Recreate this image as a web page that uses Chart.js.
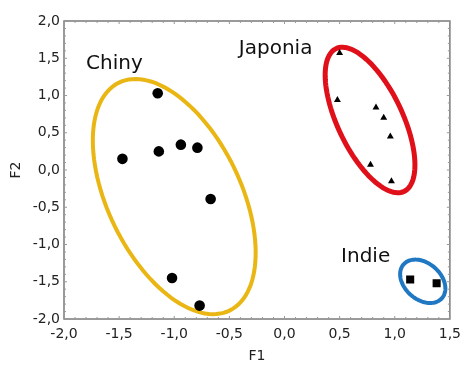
<!DOCTYPE html>
<html>
<head>
<meta charset="utf-8">
<script src="https://cdn.jsdelivr.net/npm/chart.js@4.4.1/dist/chart.umd.min.js"></script>
<style>
html,body{margin:0;padding:0;background:#fff;}
#wrap{width:468px;height:365px;position:relative;}
</style>
</head>
<body>
<div id="wrap"><canvas id="c" width="468" height="365"></canvas></div>
<script>
// Data
const chinyX = [-1.47, -1.15, -1.14, -0.94, -0.79, -0.67, -1.02, -0.77];
const chinyY = [0.15, 1.03, 0.25, 0.34, 0.30, -0.39, -1.45, -1.82];
const japoniaX = [0.50, 0.48, 0.83, 0.90, 0.96, 0.78, 0.97];
const japoniaY = [1.57, 0.94, 0.84, 0.70, 0.45, 0.07, -0.15];
const indieX = [1.14, 1.38];
const indieY = [-1.47, -1.52];
const groupNames = ['Chiny', 'Japonia', 'Indie'];
const xTicksRange = [-2, 1.5];
const yTicksRange = [-2, 2];
const axisTitles = ['F1', 'F2'];

// Confidence ellipses (data units): centre, two semi-axis vectors
const ellipseCentreX = [-1.00, 0.776, 1.254];
const ellipseCentreY = [-0.357, 0.671, -1.494];
const ellipseU = [[0.505, -1.527], [0.309, -0.958], [0.175, -0.225]];
const ellipseV = [[-0.539, -0.399], [-0.265, -0.19], [-0.107, -0.185]];

// Label anchors (data units)
const labelX = [-1.80, -0.414, 0.513];
const labelY = [1.352, 1.557, -1.239];

const ellipseStyle = [
  {color: '#E9B614', width: 4},
  {color: '#E0101A', width: 5},
  {color: '#1F78C1', width: 4}
];

function pts(xs, ys){ return xs.map((x,i)=>({x:x, y:ys[i]})); }
const fmt = v => v.toFixed(1).replace('.', ',');

const overlay = {
  id: 'overlay',
  beforeDatasetsDraw(chart){
    const ctx = chart.ctx, xs = chart.scales.x, ys = chart.scales.y, ca = chart.chartArea;
    ctx.save();
    // frame
    ctx.strokeStyle = '#7a7a7a';
    ctx.lineWidth = 1.5;
    ctx.strokeRect(ca.left, ca.top, ca.right - ca.left, ca.bottom - ca.top);
    // inner tick marks
    ctx.lineWidth = 1;
    ctx.strokeStyle = '#999';
    for (let k = Math.round(xs.min*10); k <= Math.round(xs.max*10); k++){
      const px = xs.getPixelForValue(k/10);
      const len = (k % 5 === 0) ? 3 : 2;
      ctx.beginPath();
      ctx.moveTo(px, ca.bottom); ctx.lineTo(px, ca.bottom - len);
      ctx.moveTo(px, ca.top); ctx.lineTo(px, ca.top + len);
      ctx.stroke();
    }
    for (let k = Math.round(ys.min*10); k <= Math.round(ys.max*10); k++){
      const py = ys.getPixelForValue(k/10);
      const len = (k % 5 === 0) ? 3 : 2;
      ctx.beginPath();
      ctx.moveTo(ca.left, py); ctx.lineTo(ca.left + len, py);
      ctx.moveTo(ca.right, py); ctx.lineTo(ca.right - len, py);
      ctx.stroke();
    }
    // ellipses
    for (let e = 0; e < ellipseCentreX.length; e++){
      ctx.beginPath();
      const N = 120;
      for (let i = 0; i <= N; i++){
        const t = i / N * Math.PI * 2;
        const dx = ellipseCentreX[e] + ellipseU[e][0]*Math.cos(t) + ellipseV[e][0]*Math.sin(t);
        const dy = ellipseCentreY[e] + ellipseU[e][1]*Math.cos(t) + ellipseV[e][1]*Math.sin(t);
        const px = xs.getPixelForValue(dx), py = ys.getPixelForValue(dy);
        if (i === 0) ctx.moveTo(px, py); else ctx.lineTo(px, py);
      }
      ctx.closePath();
      ctx.strokeStyle = ellipseStyle[e].color;
      ctx.lineWidth = ellipseStyle[e].width;
      ctx.stroke();
    }
    // group labels
    ctx.fillStyle = '#111';
    ctx.font = '20px "DejaVu Sans"';
    ctx.textAlign = 'left';
    ctx.textBaseline = 'alphabetic';
    for (let g = 0; g < groupNames.length; g++){
      ctx.fillText(groupNames[g], xs.getPixelForValue(labelX[g]), ys.getPixelForValue(labelY[g]));
    }
    ctx.restore();
  }
};

new Chart(document.getElementById('c'), {
  type: 'scatter',
  data: {
    datasets: [
      {label: groupNames[0], data: pts(chinyX, chinyY), pointStyle: 'circle', pointRadius: 5.3,
       backgroundColor: '#000', borderColor: '#000', borderWidth: 0},
      {label: groupNames[1], data: pts(japoniaX, japoniaY), pointStyle: 'triangle', pointRadius: 4,
       backgroundColor: '#000', borderColor: '#000', borderWidth: 0},
      {label: groupNames[2], data: pts(indieX, indieY), pointStyle: 'rect', pointRadius: 5.7,
       backgroundColor: '#000', borderColor: '#000', borderWidth: 0}
    ]
  },
  options: {
    responsive: false,
    animation: false,
    events: [],
    layout: {padding: {left: 0, top: 21, right: 13, bottom: 0}},
    plugins: {legend: {display: false}, tooltip: {enabled: false}},
    scales: {
      x: {
        type: 'linear', min: xTicksRange[0], max: xTicksRange[1],
        grid: {display: false, drawTicks: false},
        border: {display: false},
        ticks: {stepSize: 0.5, autoSkip: false, maxRotation: 0, padding: 7, color: '#222',
                font: {family: 'DejaVu Sans', size: 14}, callback: v => fmt(v)},
        title: {display: true, text: axisTitles[0], color: '#222', padding: 0,
                font: {family: 'DejaVu Sans', size: 14}},
        afterFit(s){ s.height = 46; }
      },
      y: {
        type: 'linear', min: yTicksRange[0], max: yTicksRange[1],
        grid: {display: false, drawTicks: false},
        border: {display: false},
        ticks: {stepSize: 0.5, autoSkip: false, padding: 4, color: '#222',
                font: {family: 'DejaVu Sans', size: 14}, callback: v => fmt(v)},
        title: {display: true, text: axisTitles[1], color: '#222', padding: {top: 8, bottom: 0},
                font: {family: 'DejaVu Sans', size: 14}},
        afterFit(s){ s.width = 64; }
      }
    }
  },
  plugins: [overlay]
});
</script>
</body>
</html>
